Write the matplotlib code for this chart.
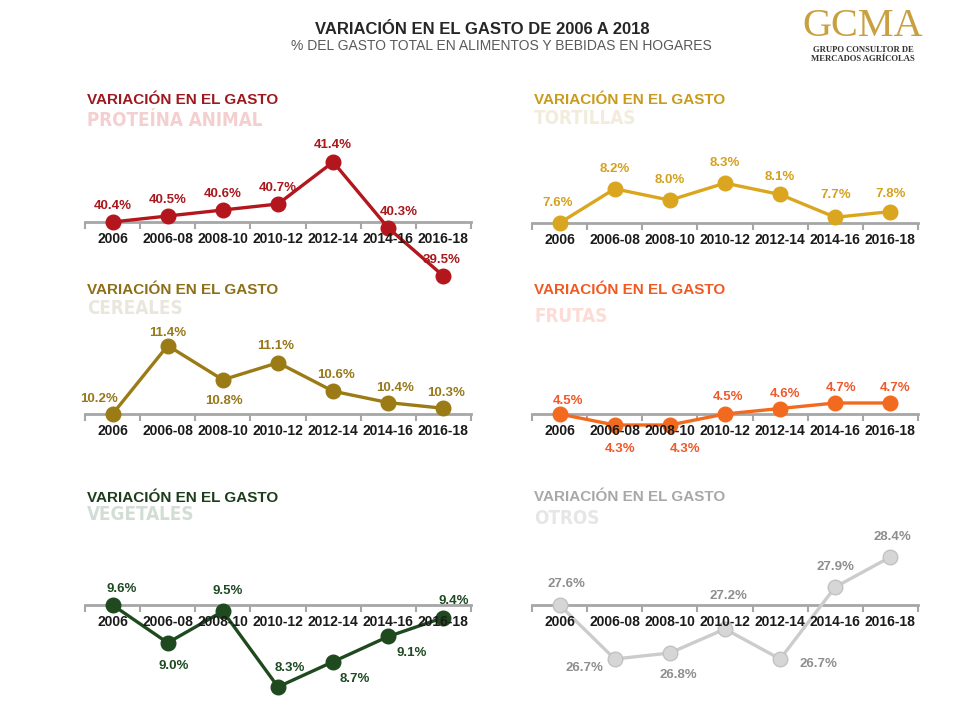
import numpy as np
import matplotlib
matplotlib.use("Agg")
import matplotlib.pyplot as plt

plt.rcParams['font.family'] = ['Liberation Sans', 'DejaVu Sans']

# data
periods = ['2006', '2006-08', '2008-10', '2010-12', '2012-14', '2014-16', '2016-18']
proteina = [40.4, 40.5, 40.6, 40.7, 41.4, 40.3, 39.5]
tortillas = [7.6, 8.2, 8.0, 8.3, 8.1, 7.7, 7.8]
cereales = [10.2, 11.4, 10.8, 11.1, 10.6, 10.4, 10.3]
frutas = [4.5, 4.3, 4.3, 4.5, 4.6, 4.7, 4.7]
vegetales = [9.6, 9.0, 9.5, 8.3, 8.7, 9.1, 9.4]
otros = [27.6, 26.7, 26.8, 27.2, 26.7, 27.9, 28.4]

W, H = 960, 720
fig = plt.figure(figsize=(9.6, 7.2), dpi=100)


def fx(x):
    return x / W


def fy(y):
    return 1 - y / H


def panel(values, name, left, base_px, scale, head_y, sub_y, c_line, c_head, c_sub,
          c_lab, offsets, c_mark=None, c_edge=None):
    # scale: pixels per unit of value, base_px: pixel row of the first value
    half = 115
    ax = fig.add_axes([fx(left), fy(base_px + half), fx(386), 2 * half / H])
    ax.patch.set_visible(False)
    base = values[0]
    ax.set_xlim(-0.5, 6.5)
    ax.set_ylim(base - half / scale, base + half / scale)
    for s in ['top', 'left', 'right']:
        ax.spines[s].set_visible(False)
    ax.spines['bottom'].set_position(('data', base))
    ax.spines['bottom'].set_color('#a6a6a6')
    ax.spines['bottom'].set_linewidth(2)
    ax.set_yticks([])
    ax.set_xticks(np.arange(-0.5, 7, 1))
    ax.tick_params(axis='x', length=5, width=1.5, color='#a6a6a6', direction='out',
                   labelbottom=False)
    x = np.arange(len(values))
    ax.plot(x, values, color=c_line, lw=2.4, marker='o', ms=10.5,
            mfc=c_mark or c_line, mec=c_edge or c_line, zorder=3, clip_on=False)
    for i, p in enumerate(periods):
        ax.annotate(p, xy=(i, base), xytext=(0, -17), textcoords='offset pixels',
                    ha='center', va='center', fontsize=10, fontweight='bold',
                    color='#1a1a1a', zorder=4, annotation_clip=False)
    for i, v in enumerate(values):
        dx, dy = offsets[i]
        ax.annotate(f'{v:.1f}%', xy=(i, v), xytext=(dx, dy), textcoords='offset pixels',
                    ha='center', va='center', fontsize=9.5, fontweight='bold',
                    color=c_lab, zorder=5, annotation_clip=False)
    fig.text(fx(left + 2), fy(head_y), 'VARIACIÓN EN EL GASTO', fontsize=11,
             fontweight='bold', color=c_head, va='center', ha='left')
    fig.text(fx(left + 2), fy(sub_y), name, fontsize=13.5, fontweight='bold',
             color=c_sub, va='center', ha='left', fontstretch='condensed',
             family=['DejaVu Sans'])
    return ax


panel(proteina, 'PROTEÍNA ANIMAL', 85, 222, 60, 100, 120,
      '#b3161c', '#9c1a1f', '#f4cfd0', '#a8181d',
      [(0, 16), (0, 16), (0, 16), (0, 16), (0, 17), (10, 16), (-2, 16)])
panel(tortillas, 'TORTILLAS', 532, 223, 57, 100, 118,
      '#dba61f', '#c99a1c', '#f1ecdc', '#d4a11f',
      [(-2, 20), (0, 20), (0, 20), (0, 20), (0, 18), (0, 22), (0, 18)])
panel(cereales, 'CEREALES', 85, 414, 57, 290, 308,
      '#9a7b16', '#8c6f18', '#e9e6dc', '#97791a',
      [(-14, 15), (0, 13), (1, -21), (-2, 17), (3, 16), (7, 15), (3, 15)])
panel(frutas, 'FRUTAS', 532, 414, 55, 290, 316,
      '#f26a1f', '#f05a22', '#fcdcd4', '#f0582a',
      [(8, 13), (5, -24), (15, -24), (3, 17), (5, 15), (6, 15), (5, 15)])
panel(vegetales, 'VEGETALES', 85, 605, 63, 498, 515,
      '#1f4a1f', '#1c3d1c', '#d2ddd6', '#1f4a22',
      [(9, 16), (6, -23), (5, 20), (12, 19), (22, -17), (23, -17), (10, 17)])
panel(otros, 'OTROS', 532, 605, 60, 497, 518,
      '#cccccc', '#a8a8a8', '#e6e6e6', '#8e8e8e',
      [(7, 21), (-30, -9), (8, -22), (3, 33), (38, -5), (0, 20), (2, 20)],
      c_mark='#d6d6d6', c_edge='#c2c2c2')

# titles
fig.text(fx(482), fy(29), 'VARIACIÓN EN EL GASTO DE 2006 A 2018', fontsize=12,
         fontweight='bold', color='#262626', ha='center', va='center')
fig.text(fx(501), fy(46), '% DEL GASTO TOTAL EN ALIMENTOS Y BEBIDAS EN HOGARES',
         fontsize=10, color='#5a5a5a', ha='center', va='center')

# logo
fig.text(fx(863), fy(27), 'GCMA', fontsize=29, color='#c8a040', ha='center', va='center',
         family=['Liberation Serif', 'DejaVu Serif'])
fig.text(fx(863), fy(50), 'GRUPO CONSULTOR DE', fontsize=6.2, fontweight='bold',
         color='#333333', ha='center', va='center',
         family=['Liberation Serif', 'DejaVu Serif'])
fig.text(fx(863), fy(59), 'MERCADOS AGRÍCOLAS', fontsize=6.2, fontweight='bold',
         color='#333333', ha='center', va='center',
         family=['Liberation Serif', 'DejaVu Serif'])

fig.savefig('out.png', dpi=100)
